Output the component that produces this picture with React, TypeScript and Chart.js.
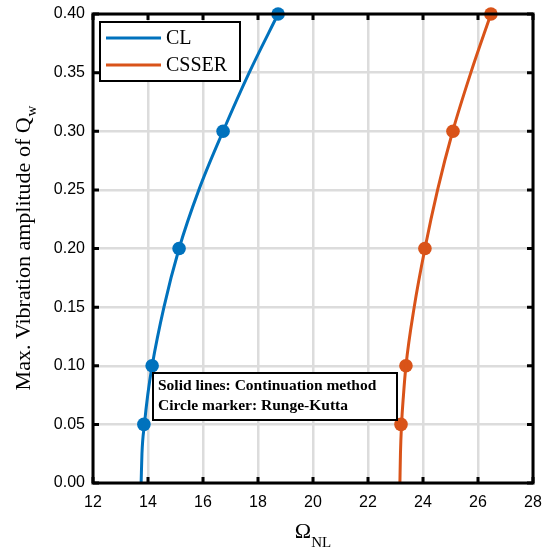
import React, { useEffect, useRef } from "react";
import { Chart, registerables } from "chart.js";

Chart.register(...registerables);

// Continuation curves
const lineAmp = [0, 0.025, 0.05, 0.075, 0.1, 0.15, 0.2, 0.25, 0.3, 0.35, 0.4];
const clLineFreq = [13.75, 13.78, 13.87, 13.99, 14.15, 14.58, 15.13, 15.85, 16.73, 17.68, 18.73];
const csserLineFreq = [23.16, 23.18, 23.22, 23.29, 23.38, 23.68, 24.07, 24.53, 25.08, 25.74, 26.47];

// Runge-Kutta markers
const markerAmp = [0.05, 0.1, 0.2, 0.3, 0.4];
const clMarkerFreq = [13.85, 14.15, 15.13, 16.73, 18.73];
const csserMarkerFreq = [23.2, 23.38, 24.07, 25.09, 26.47];

const xTicks = [12, 14, 16, 18, 20, 22, 24, 26, 28];
const yTicks = [0, 0.05, 0.1, 0.15, 0.2, 0.25, 0.3, 0.35, 0.4];

const seriesNames = ["CL", "CSSER"];
const seriesColors = ["#0072BD", "#D95319"];
const noteLines = ["Solid lines: Continuation method", "Circle marker: Runge-Kutta"];

const pts = (xs: number[], ys: number[]) => xs.map((x, i) => ({ x, y: ys[i] }));

const decorPlugin = {
  id: "decor",
  afterDraw(chart: any) {
    const { ctx, chartArea: a, scales } = chart;
    const xs = scales.x;
    const ys = scales.y;
    ctx.save();
    // box
    ctx.strokeStyle = "#000";
    ctx.lineWidth = 3;
    ctx.strokeRect(a.left, a.top, a.right - a.left, a.bottom - a.top);
    // inward ticks
    const tl = 6;
    ctx.beginPath();
    xTicks.forEach((v) => {
      const px = xs.getPixelForValue(v);
      ctx.moveTo(px, a.bottom);
      ctx.lineTo(px, a.bottom - tl);
      ctx.moveTo(px, a.top);
      ctx.lineTo(px, a.top + tl);
    });
    yTicks.forEach((v) => {
      const py = ys.getPixelForValue(v);
      ctx.moveTo(a.left, py);
      ctx.lineTo(a.left + tl, py);
      ctx.moveTo(a.right, py);
      ctx.lineTo(a.right - tl, py);
    });
    ctx.stroke();

    // legend
    const lx = a.left + 7, ly = a.top + 8, lw = 140, lh = 59;
    ctx.fillStyle = "#fff";
    ctx.fillRect(lx, ly, lw, lh);
    ctx.lineWidth = 2;
    ctx.strokeStyle = "#000";
    ctx.strokeRect(lx, ly, lw, lh);
    ctx.font = "20px 'Liberation Serif'";
    ctx.textBaseline = "middle";
    ctx.textAlign = "left";
    seriesNames.forEach((name, i) => {
      const yy = ly + 16 + i * 27;
      ctx.strokeStyle = seriesColors[i];
      ctx.lineWidth = 3;
      ctx.beginPath();
      ctx.moveTo(lx + 6, yy);
      ctx.lineTo(lx + 61, yy);
      ctx.stroke();
      ctx.fillStyle = "#000";
      ctx.fillText(name, lx + 66, yy + 1);
    });

    // note box
    const nx = 153, ny = 373, nw = 244, nh = 47;
    ctx.fillStyle = "#fff";
    ctx.fillRect(nx, ny, nw, nh);
    ctx.strokeStyle = "#000";
    ctx.lineWidth = 2;
    ctx.strokeRect(nx, ny, nw, nh);
    ctx.fillStyle = "#000";
    ctx.font = "bold 15.5px 'Liberation Serif'";
    ctx.textBaseline = "alphabetic";
    noteLines.forEach((t, i) => {
      ctx.fillText(t, nx + 5, ny + 17 + i * 20);
    });

    // x title: Omega_NL
    const cx = (a.left + a.right) / 2;
    ctx.font = "22px 'Liberation Serif'";
    const wO = ctx.measureText("Ω").width;
    ctx.font = "15px 'Liberation Serif'";
    const wS = ctx.measureText("NL").width;
    const start = cx - (wO + wS) / 2;
    ctx.font = "22px 'Liberation Serif'";
    ctx.fillText("Ω", start, 538);
    ctx.font = "15px 'Liberation Serif'";
    ctx.fillText("NL", start + wO, 547);

    // y title
    ctx.translate(30, (a.top + a.bottom) / 2);
    ctx.rotate(-Math.PI / 2);
    const main = "Max. Vibration amplitude of Q";
    ctx.font = "22px 'Liberation Serif'";
    const wm = ctx.measureText(main).width;
    ctx.font = "15px 'Liberation Serif'";
    const ws = ctx.measureText("w").width;
    const s0 = -(wm + ws) / 2;
    ctx.font = "22px 'Liberation Serif'";
    ctx.fillText(main, s0, 0);
    ctx.font = "15px 'Liberation Serif'";
    ctx.fillText("w", s0 + wm + 1, 6);
    ctx.restore();
  },
};

export default function App() {
  const ref = useRef<HTMLCanvasElement | null>(null);
  useEffect(() => {
    document.body.style.margin = "0";
    const canvas = ref.current!;
    const chart = new Chart(canvas, {
      type: "scatter",
      data: {
        datasets: [
          {
            label: "CL line",
            data: pts(clLineFreq, lineAmp),
            showLine: true,
            borderColor: seriesColors[0],
            borderWidth: 3,
            pointRadius: 0,
            cubicInterpolationMode: "monotone",
          },
          {
            label: "CSSER line",
            data: pts(csserLineFreq, lineAmp),
            showLine: true,
            borderColor: seriesColors[1],
            borderWidth: 3,
            pointRadius: 0,
            cubicInterpolationMode: "monotone",
          },
          {
            label: "CL RK",
            data: pts(clMarkerFreq, markerAmp),
            showLine: false,
            backgroundColor: seriesColors[0],
            borderColor: seriesColors[0],
            pointRadius: 6.8,
            borderWidth: 0,
          },
          {
            label: "CSSER RK",
            data: pts(csserMarkerFreq, markerAmp),
            showLine: false,
            backgroundColor: seriesColors[1],
            borderColor: seriesColors[1],
            pointRadius: 6.8,
            borderWidth: 0,
          },
        ] as any,
      },
      options: {
        animation: false,
        responsive: false,
        events: [],
        clip: false as any,
        layout: { padding: { left: 0, top: 14, right: 12, bottom: 0 } },
        plugins: { legend: { display: false }, tooltip: { enabled: false } },
        scales: {
          x: {
            type: "linear",
            min: 12,
            max: 28,
            afterBuildTicks: (s: any) => {
              s.ticks = xTicks.map((v) => ({ value: v }));
            },
            afterFit: (s: any) => {
              s.height = 70;
              s.paddingLeft = 0;
              s.paddingRight = 0;
            },
            grid: { color: "#dcdcdc", lineWidth: 2.5, drawTicks: false },
            border: { display: false },
            ticks: {
              font: { family: "'Liberation Sans'", size: 16 },
              color: "#000",
              padding: 10,
              maxRotation: 0,
              callback: (v: any) => String(v),
            },
          },
          y: {
            type: "linear",
            min: 0,
            max: 0.4,
            afterBuildTicks: (s: any) => {
              s.ticks = yTicks.map((v) => ({ value: v }));
            },
            afterFit: (s: any) => {
              s.width = 93;
              s.paddingTop = 0;
              s.paddingBottom = 0;
            },
            grid: { color: "#dcdcdc", lineWidth: 2.5, drawTicks: false },
            border: { display: false },
            ticks: {
              font: { family: "'Liberation Sans'", size: 16 },
              color: "#000",
              padding: 8,
              callback: (v: any) => Number(v).toFixed(2),
            },
          },
        },
      },
      plugins: [decorPlugin],
    });
    return () => chart.destroy();
  }, []);
  return (
    <div style={{ width: 545, height: 553 }}>
      <canvas ref={ref} width={545} height={553} style={{ display: "block" }} />
    </div>
  );
}
